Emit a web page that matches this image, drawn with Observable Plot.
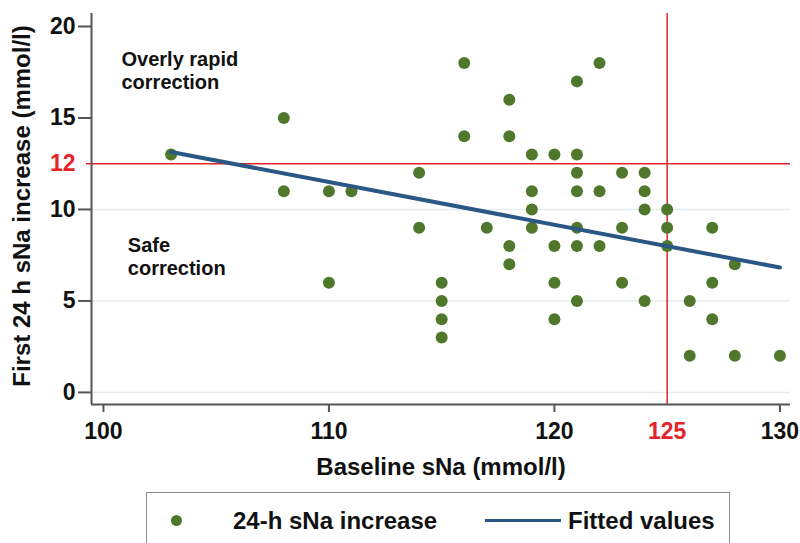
<!DOCTYPE html>
<html><head><meta charset="utf-8">
<script src="https://cdn.jsdelivr.net/npm/d3@7"></script>
<script src="https://cdn.jsdelivr.net/npm/@observablehq/plot@0.6"></script>
<style>
body{margin:0;background:#fff;font-family:"Liberation Sans",Arial,sans-serif;}
#wrap{position:relative;width:800px;height:543px;overflow:hidden;background:#fff;}
#legend{position:absolute;left:146px;top:492px;width:584px;height:90px;border:1.5px solid #8c8c8c;box-sizing:border-box;}
.lg{position:absolute;font-size:24px;font-weight:bold;color:#111;line-height:24px;top:16px;white-space:nowrap;}
.ldot{position:absolute;left:24px;top:22px;width:11px;height:11px;border-radius:50%;background:#50782d;}
.lline{position:absolute;left:338px;top:26px;width:76px;height:3px;background:#2a5784;}
</style></head><body>
<div id="wrap"><div id="chart"></div>
<div id="legend">
  <div class="ldot"></div><div class="lg" style="left:86px">24-h sNa increase</div>
  <div class="lline"></div><div class="lg" style="left:421px">Fitted values</div>
</div></div>
<script>
// Data
const baselineSNa = [103,108,108,110,110,111,114,114,115,115,115,115,116,116,117,118,118,118,118,119,119,119,119,120,120,120,120,121,121,121,121,121,121,121,122,122,122,123,123,123,124,124,124,124,125,125,125,126,126,127,127,127,128,128,130];
const increase24h = [13,15,11,11,6,11,12,9,6,5,4,3,18,14,9,16,14,8,7,13,11,10,9,13,8,6,4,17,13,12,11,9,8,5,18,11,8,12,9,6,12,11,10,5,10,9,8,5,2,9,6,4,7,2,2];
const xTicks = [100,110,120,130];
const yTicks = [0,5,10,15,20];
const gridY = [0,5,10];
const cutoffX = 125;          // vertical red line, labelled "125"
const cutoffY = 12.5;         // horizontal red line as placed in the reference
const cutoffYLabel = "12";
const seriesNames = ["24-h sNa increase","Fitted values"];

const data = baselineSNa.map((x,i)=>({x, y: increase24h[i]}));
const xDomain = [99.47,130.47];
const yDomain = [-0.66,20.71];
const red = "#e3242b", axisGray = "#555", ink = "#111";

const chart = Plot.plot({
  width:800, height:490,
  marginLeft:91, marginRight:10, marginTop:13, marginBottom:86,
  x:{domain:xDomain}, y:{domain:yDomain},
  style:{fontFamily:"'Liberation Sans', Arial, sans-serif", background:"white", color:ink},
  marks:[
    Plot.ruleY(gridY,{stroke:"#e4ecef", strokeWidth:1.5}),
    Plot.ruleY([cutoffY],{stroke:red, strokeWidth:1.5}),
    Plot.ruleX([cutoffX],{stroke:red, strokeWidth:1.5}),
    Plot.dot(data,{x:"x", y:"y", r:6, fill:"#50782d", stroke:null}),
    Plot.linearRegressionY(data,{x:"x", y:"y", ci:0, stroke:"#2a5784", strokeWidth:4}),
    Plot.ruleX([xDomain[0]],{stroke:axisGray, strokeWidth:2}),
    Plot.ruleY([yDomain[0]],{stroke:axisGray, strokeWidth:2}),
    Plot.axisY({ticks:yTicks, tickSize:13, tickPadding:3, fontSize:23, fontWeight:"bold", stroke:axisGray, strokeWidth:2, fill:ink, label:null}),
    Plot.axisY({ticks:[cutoffY], tickFormat:()=>cutoffYLabel, tickSize:5, tickPadding:11, fontSize:23, fontWeight:"bold", stroke:red, strokeWidth:1.5, fill:red, label:null}),
    Plot.axisX({ticks:xTicks, tickSize:8, tickPadding:10, fontSize:23, fontWeight:"bold", stroke:axisGray, strokeWidth:2, fill:ink, label:null}),
    Plot.axisX({ticks:[cutoffX], tickSize:0, tickPadding:18, fontSize:23, fontWeight:"bold", fill:red, label:null}),
    Plot.text(["Baseline sNa (mmol/l)"],{text:d=>d, frameAnchor:"bottom", dy:63, lineAnchor:"middle", fontSize:24, fontWeight:"bold", fill:ink}),
    Plot.text(["First 24 h sNa increase (mmol/l)"],{text:d=>d, frameAnchor:"left", textAnchor:"middle", lineAnchor:"middle", rotate:-90, dx:-69, dy:-3, fontSize:24, fontWeight:"bold", fill:ink}),
    Plot.text(["Overly rapid\ncorrection"],{text:d=>d, x:100.8, y:17.62, textAnchor:"start", lineAnchor:"middle", lineHeight:1.15, fontSize:20, fontWeight:"bold", fill:ink}),
    Plot.text(["Safe\ncorrection"],{text:d=>d, x:101.08, y:7.43, textAnchor:"start", lineAnchor:"middle", lineHeight:1.15, fontSize:20, fontWeight:"bold", fill:ink})
  ]
});
document.getElementById("chart").appendChild(chart);
document.querySelectorAll(".lg")[0].textContent = seriesNames[0];
document.querySelectorAll(".lg")[1].textContent = seriesNames[1];
</script>
</body></html>
